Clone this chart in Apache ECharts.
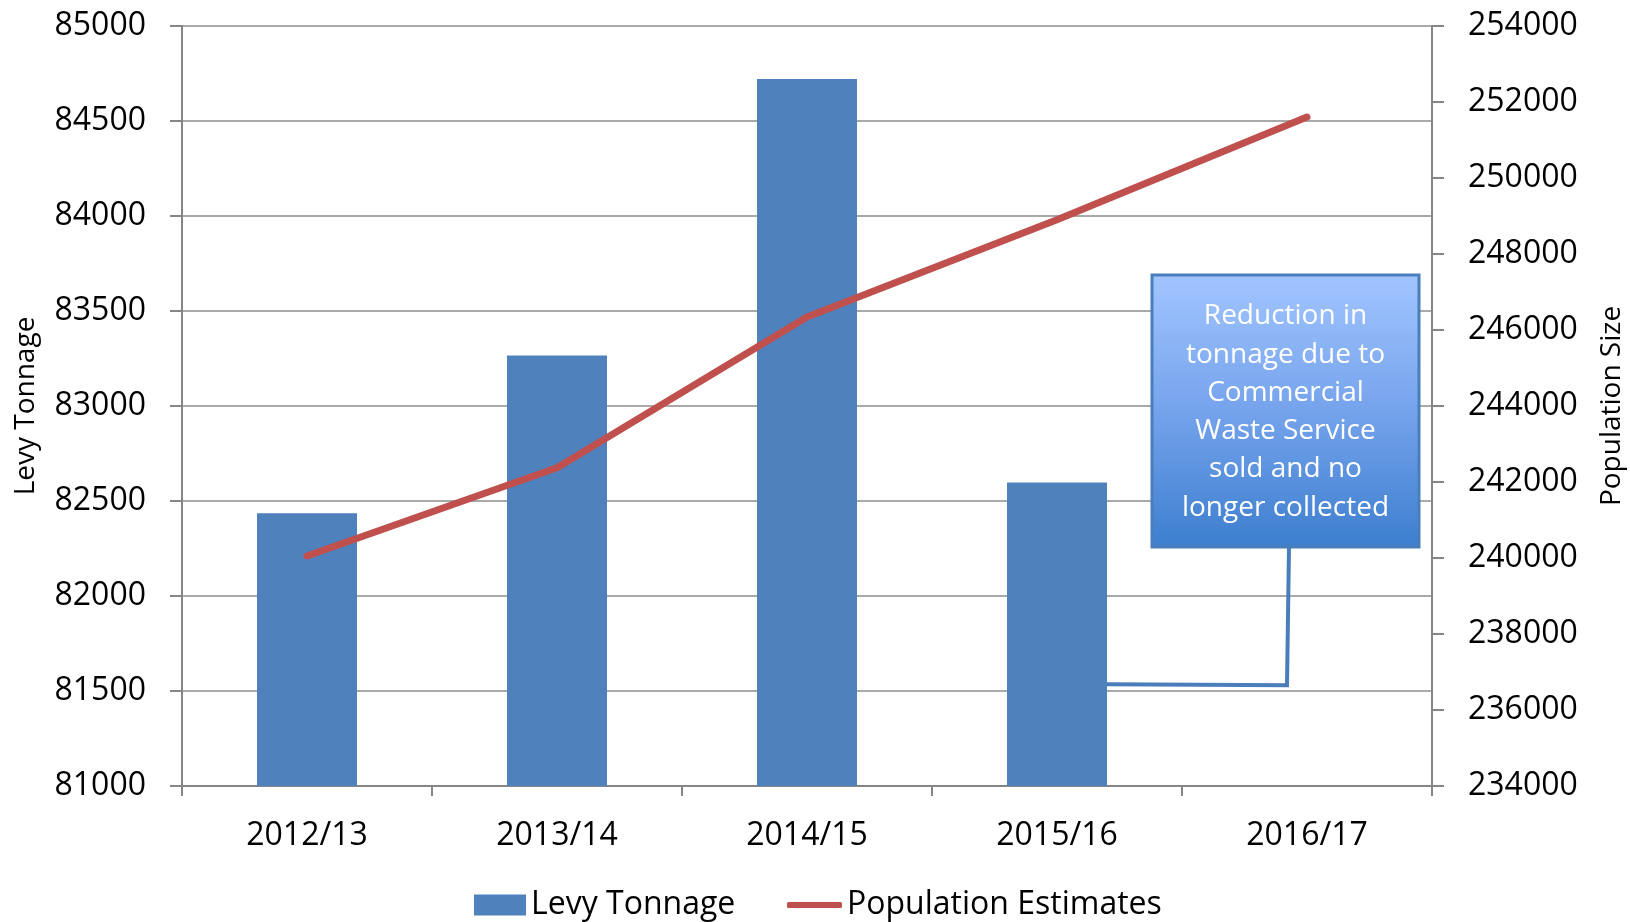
<!DOCTYPE html>
<html>
<head>
<meta charset="utf-8">
<script src="https://cdn.jsdelivr.net/npm/echarts@6/dist/echarts.min.js"></script>
<style>
html,body{margin:0;padding:0;background:#fff;}
#chart{width:1630px;height:922px;}
</style>
</head>
<body>
<div id="chart"></div>
<script>
var years = ['2012/13','2013/14','2014/15','2015/16','2016/17'];
var levyTonnage = [82435, 83266, 84721, 82598, '-'];
var population = [240053, 242376, 246342, 248903, 251605];
var leftTicks = [81000, 85000, 500];
var rightTicks = [234000, 254000, 2000];
var noteText = ['Reduction in','tonnage due to','Commercial','Waste Service','sold and no','longer collected'];
var noteAnchor = ['2015/16', 81530];

var font = "'Open Sans', sans-serif";
var myChart = echarts.init(document.getElementById('chart'));
var plain = function(v){ return String(v); };

var chartOption = {
	animation: false,
	textStyle: {fontFamily: font},
	grid: {left: 182, right: 198, top: 26, bottom: 136, outerBoundsMode: 'none'},
	legend: [{
		data: ['Levy Tonnage'],
		left: 469, top: 884,
		icon: 'rect', itemWidth: 52, itemHeight: 21,
		textStyle: {fontSize: 32, color: '#000', fontFamily: font}
	}, {
		data: ['Population Estimates'],
		left: 782, top: 884,
		icon: 'roundRect', itemWidth: 55, itemHeight: 6,
		textStyle: {fontSize: 32, color: '#000', fontFamily: font}
	}],
	xAxis: {
		type: 'category',
		data: years,
		axisLine: {lineStyle: {color: '#868686', width: 2}},
		axisTick: {show: true, length: 10, lineStyle: {color: '#868686', width: 2}},
		axisLabel: {fontSize: 32, color: '#000', margin: 34, fontFamily: font},
		splitLine: {show: false}
	},
	yAxis: [{
		type: 'value',
		name: 'Levy Tonnage',
		nameLocation: 'middle',
		nameGap: 142,
		nameRotate: 90,
		nameTextStyle: {fontSize: 28, color: '#000', fontFamily: font},
		min: leftTicks[0], max: leftTicks[1], interval: leftTicks[2],
		axisLine: {show: true, lineStyle: {color: '#868686', width: 2}},
		axisTick: {show: true, length: 12, lineStyle: {color: '#868686', width: 2}},
		axisLabel: {fontSize: 32, color: '#000', margin: 36, fontFamily: font, formatter: plain},
		splitLine: {lineStyle: {color: '#8c8c8c', width: 1.5}}
	}, {
		type: 'value',
		name: 'Population Size',
		nameLocation: 'middle',
		nameGap: 166,
		nameRotate: 90,
		nameTextStyle: {fontSize: 28, color: '#000', fontFamily: font},
		min: rightTicks[0], max: rightTicks[1], interval: rightTicks[2],
		axisLine: {show: true, lineStyle: {color: '#868686', width: 2}},
		axisTick: {show: true, length: 12, lineStyle: {color: '#868686', width: 2}},
		axisLabel: {fontSize: 32, color: '#000', margin: 36, fontFamily: font, formatter: plain},
		splitLine: {show: false}
	}],
	series: [{
		name: 'Levy Tonnage',
		type: 'bar',
		data: levyTonnage,
		barWidth: '40%',
		itemStyle: {color: '#4F81BD'}
	}, {
		name: 'Population Estimates',
		type: 'line',
		yAxisIndex: 1,
		data: population,
		showSymbol: false,
		symbol: 'none',
		lineStyle: {color: '#C0504D', width: 7, cap: 'round', join: 'round'},
		itemStyle: {color: '#C0504D'},
		z: 3
	}]
}
myChart.setOption(chartOption);

// callout box + connector to the 2015/16 bar
var cx = myChart.convertToPixel({xAxisIndex: 0}, noteAnchor[0]);
var nx = myChart.convertToPixel({xAxisIndex: 0}, years[4]);
var barHalf = (nx - cx) * 0.4 / 2;
var ay = myChart.convertToPixel({yAxisIndex: 0}, noteAnchor[1]);

myChart.setOption({
	graphic: [{
		type: 'polyline',
		z: 10,
		shape: {points: [[1289, 547], [1287, ay], [cx + barHalf, ay - 1]]},
		style: {stroke: '#4A7EBB', lineWidth: 4, fill: null}
	}, {
		type: 'rect',
		z: 11,
		shape: {x: 1152, y: 275, width: 267, height: 272},
		style: {
			fill: new echarts.graphic.LinearGradient(0, 0, 0, 1, [
				{offset: 0, color: '#A2C5FF'},
				{offset: 0.5, color: '#75A3EC'},
				{offset: 1, color: '#3C7ECE'}
			]),
			stroke: '#4A7EBB',
			lineWidth: 3
		}
	}, {
		type: 'text',
		z: 12,
		x: 1285.5, y: 412,
		style: {
			text: noteText.join('\n'),
			fill: '#fff',
			fontSize: 28,
			fontFamily: font,
			lineHeight: 38.3,
			align: 'center',
			verticalAlign: 'middle'
		}
	}]
});
</script>
</body>
</html>
